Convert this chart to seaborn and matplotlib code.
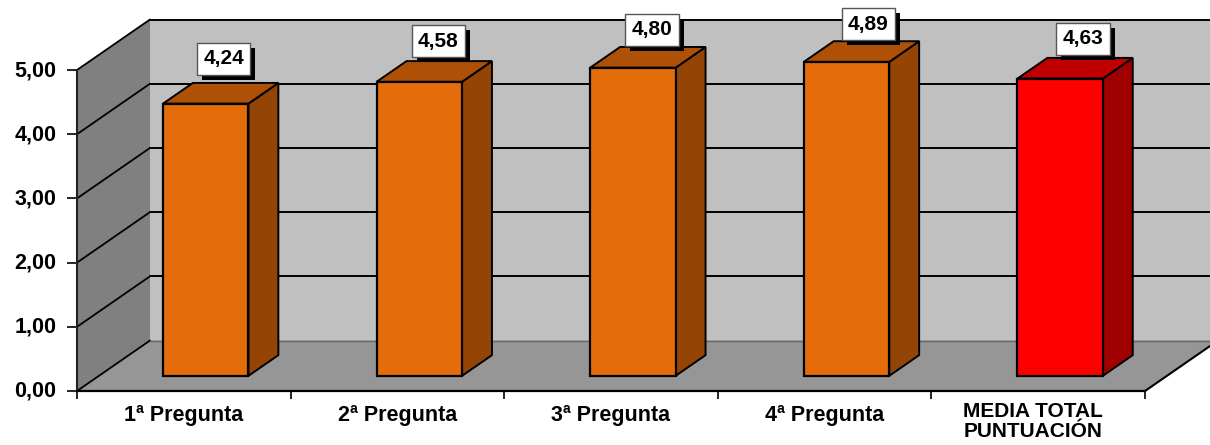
import matplotlib
matplotlib.use('Agg')
import matplotlib.pyplot as plt
from matplotlib.patches import Polygon
from matplotlib.patheffects import withSimplePatchShadow
from matplotlib.ticker import FuncFormatter
from matplotlib.transforms import ScaledTranslation
import numpy as np
import seaborn as sns

categories = ['1ª Pregunta', '2ª Pregunta', '3ª Pregunta', '4ª Pregunta', 'MEDIA TOTAL\nPUNTUACIÓN']
values = [4.24, 4.58, 4.80, 4.89, 4.63]
y_ticks = [0, 1, 2, 3, 4, 5]

front_colors = ['#E46C0A', '#E46C0A', '#E46C0A', '#E46C0A', '#FF0000']
top_colors = ['#AE5005', '#AE5005', '#AE5005', '#AE5005', '#C00000']
side_colors = ['#944506', '#944506', '#944506', '#944506', '#A00000']

W, H = 1210, 445
sns.set_theme(style='white')
plt.rcParams['font.family'] = ['Liberation Sans', 'DejaVu Sans']

fig = plt.figure(figsize=(W / 100, H / 100), dpi=100)
ax = fig.add_axes([77 / W, 1 - 391 / H, (1145 - 77) / W, (391 - 70) / H])

sns.barplot(x=categories, y=values, hue=categories, palette=front_colors, legend=False,
            width=0.4, saturation=1, edgecolor='black', linewidth=1.6, zorder=5, ax=ax)
bars = list(ax.patches)
ax.set_xlim(-0.5, 4.5)
ax.set_ylim(0, 5)

# depth of the fake 3d box, in data units
dx, dy = 73 / 213.6, 50.5 / 64.2
x0, x1 = -0.5, 4.5

ax.add_patch(Polygon([(x0 + dx, dy), (x1 + dx, dy), (x1 + dx, 5 + dy), (x0 + dx, 5 + dy)],
                     fc='#C0C0C0', ec='none', clip_on=False, zorder=1))
ax.add_patch(Polygon([(x0, 0), (x1, 0), (x1 + dx, dy), (x0 + dx, dy)],
                     fc='#969696', ec='none', clip_on=False, zorder=1.2))
ax.add_patch(Polygon([(x0, 0), (x0 + dx, dy), (x0 + dx, 5 + dy), (x0, 5)],
                     fc='#808080', ec='none', clip_on=False, zorder=1.4))

# grid on the walls
for t in y_ticks:
    ax.plot([x0, x0 + dx], [t, t + dy], color='black', lw=1.3, clip_on=False, zorder=2)
    if t > 0:
        ax.plot([x0 + dx, x1 + dx], [t + dy, t + dy], color='black', lw=1.4, clip_on=False, zorder=2)
ax.plot([x0 + dx, x1 + dx], [dy, dy], color='#666666', lw=1, clip_on=False, zorder=2)
ax.plot([x0, x0], [0, 5], color='#222222', lw=1.5, clip_on=False, zorder=2)
ax.plot([x1, x1 + dx], [0, dy], color='black', lw=1.5, clip_on=False, zorder=2)

# bars stand a bit inside the floor, move them back and add top and side
shift_x, shift_y = 0.3 * dx, 0.3 * dy
bar_dx, bar_dy = 0.41 * dx, 0.41 * dy
label_offsets = [(18, 24), (19, 20), (19, 17), (22, 17), (23, 19)]
for i, bar in enumerate(bars):
    left, w, h = bar.get_x() + shift_x, bar.get_width(), bar.get_height()
    base = shift_y
    right = left + w
    bar.set_x(left)
    bar.set_y(base)
    bar.set_clip_on(False)
    ax.add_patch(Polygon([(right, base), (right + bar_dx, base + bar_dy),
                          (right + bar_dx, base + h + bar_dy), (right, base + h)],
                         fc=side_colors[i], ec='black', lw=1.4, clip_on=False, zorder=4))
    ax.add_patch(Polygon([(left, base + h), (right, base + h),
                          (right + bar_dx, base + h + bar_dy), (left + bar_dx, base + h + bar_dy)],
                         fc=top_colors[i], ec='black', lw=1.4, clip_on=False, zorder=4))
    label = f'{values[i]:.2f}'.replace('.', ',')
    ann = ax.annotate(label, (left + w / 2, base + h + bar_dy), xytext=label_offsets[i],
                      textcoords='offset pixels', ha='center', va='center',
                      fontsize=15, fontweight='bold', color='black',
                      bbox=dict(boxstyle='square,pad=0.3', fc='white', ec='#555555', lw=1),
                      annotation_clip=False, zorder=7)
    ann.get_bbox_patch().set_path_effects([
        withSimplePatchShadow(offset=(3.6, -3.6), shadow_rgbFace='black', alpha=1)])

for s in ['top', 'right', 'left']:
    ax.spines[s].set_visible(False)
ax.spines['bottom'].set_color('black')
ax.spines['bottom'].set_linewidth(1.6)
ax.spines['bottom'].set_zorder(3)

ax.set_yticks(y_ticks)
ax.yaxis.set_major_formatter(FuncFormatter(lambda v, p: f'{v:.2f}'.replace('.', ',')))
ax.set_xticks(np.arange(x0, x1 + 1), labels=[])
ax.set_xticks(range(len(categories)), labels=categories, minor=True)
ax.tick_params(axis='y', left=True, length=7, width=1.2, color='black', pad=8, labelsize=15.5)
ax.tick_params(axis='x', which='major', bottom=True, length=6, width=1.2, color='black')
ax.tick_params(axis='x', which='minor', bottom=False, length=0, pad=10, labelsize=15.5)
for t in ax.get_yticklabels() + ax.get_xticklabels(minor=True):
    t.set_fontweight('bold')
    t.set_color('black')
    t.set_linespacing(1.05)

# small pixel moves of the tick labels
px = 1 / 100
for t in ax.get_yticklabels():
    t.set_transform(t.get_transform() + ScaledTranslation(0, 2 * px, fig.dpi_scale_trans))
last = ax.get_xticklabels(minor=True)[-1]
last.set_fontsize(15)
last.set_transform(last.get_transform() + ScaledTranslation(-5 * px, 3 * px, fig.dpi_scale_trans))
ax.set_xlabel('')
ax.set_ylabel('')

fig.savefig('out.png', dpi=100, facecolor='white')
